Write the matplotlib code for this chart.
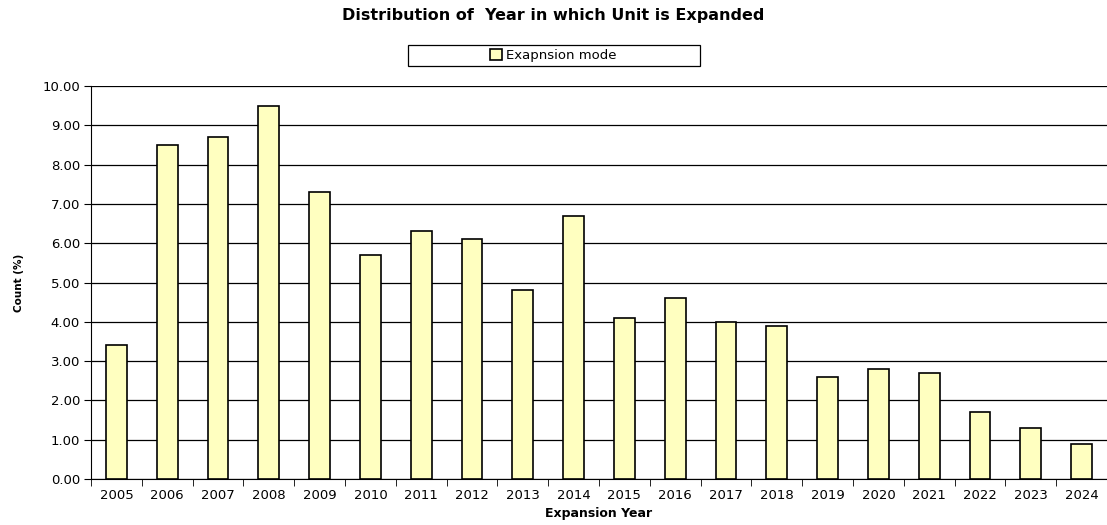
import matplotlib.pyplot as plt
from matplotlib.patches import Rectangle
import numpy as np

plt.rcParams["font.family"] = ["DejaVu Sans"]

years = [str(y) for y in range(2005, 2025)]
counts = [3.4, 8.5, 8.7, 9.5, 7.3, 5.7, 6.3, 6.1, 4.8, 6.7,
          4.1, 4.6, 4.0, 3.9, 2.6, 2.8, 2.7, 1.7, 1.3, 0.9]
y_ticks = np.arange(0, 10.01, 1.0)

fig = plt.figure(figsize=(11.07, 5.25), dpi=100)
ax = fig.add_axes([0.0822, 0.0876, 0.9178, 0.7486])

x = np.arange(len(years))
ax.bar(x, counts, width=0.41, color="#ffffc0", edgecolor="black",
       linewidth=1.2, label="Exapnsion mode", zorder=3)

ax.set_xlim(-0.5, len(years) - 0.5)
ax.set_ylim(0, 10)
ax.set_yticks(y_ticks)
ax.set_yticklabels([f"{v:.2f}" for v in y_ticks], fontsize=9.5)
ax.set_xticks(x)
ax.set_xticklabels(years, fontsize=9.5)
ax.tick_params(axis="x", length=0, pad=7)
ax.set_xticks(np.arange(-0.5, len(years)), minor=True)
ax.tick_params(axis="x", which="minor", length=5, direction="out")
ax.tick_params(axis="y", length=5, direction="out", pad=3)

ax.grid(True, axis="y", color="black", linewidth=0.9, zorder=0)
for side in ("top", "right"):
    ax.spines[side].set_visible(False)

ax.set_xlabel("Expansion Year", fontsize=9, fontweight="bold", labelpad=4)
ax.set_ylabel("Count (%)", fontsize=7.5, fontweight="bold")
ax.yaxis.set_label_coords(-0.066, 0.5)

fig.text(0.5, 0.97, "Distribution of  Year in which Unit is Expanded",
         ha="center", va="center", fontsize=11.5, fontweight="bold")

# wide legend box, with the legend entry centred inside it
fig.patches.append(Rectangle((0.3686, 0.8743), 0.2638, 0.04,
                             transform=fig.transFigure, facecolor="white",
                             edgecolor="black", linewidth=0.9))
fig.legend(loc="center", bbox_to_anchor=(0.5, 0.894), fontsize=9.5,
           frameon=False, handlelength=0.9, handleheight=0.9,
           handletextpad=0.3, borderpad=0.2)

fig.savefig("out.png", dpi=100)
